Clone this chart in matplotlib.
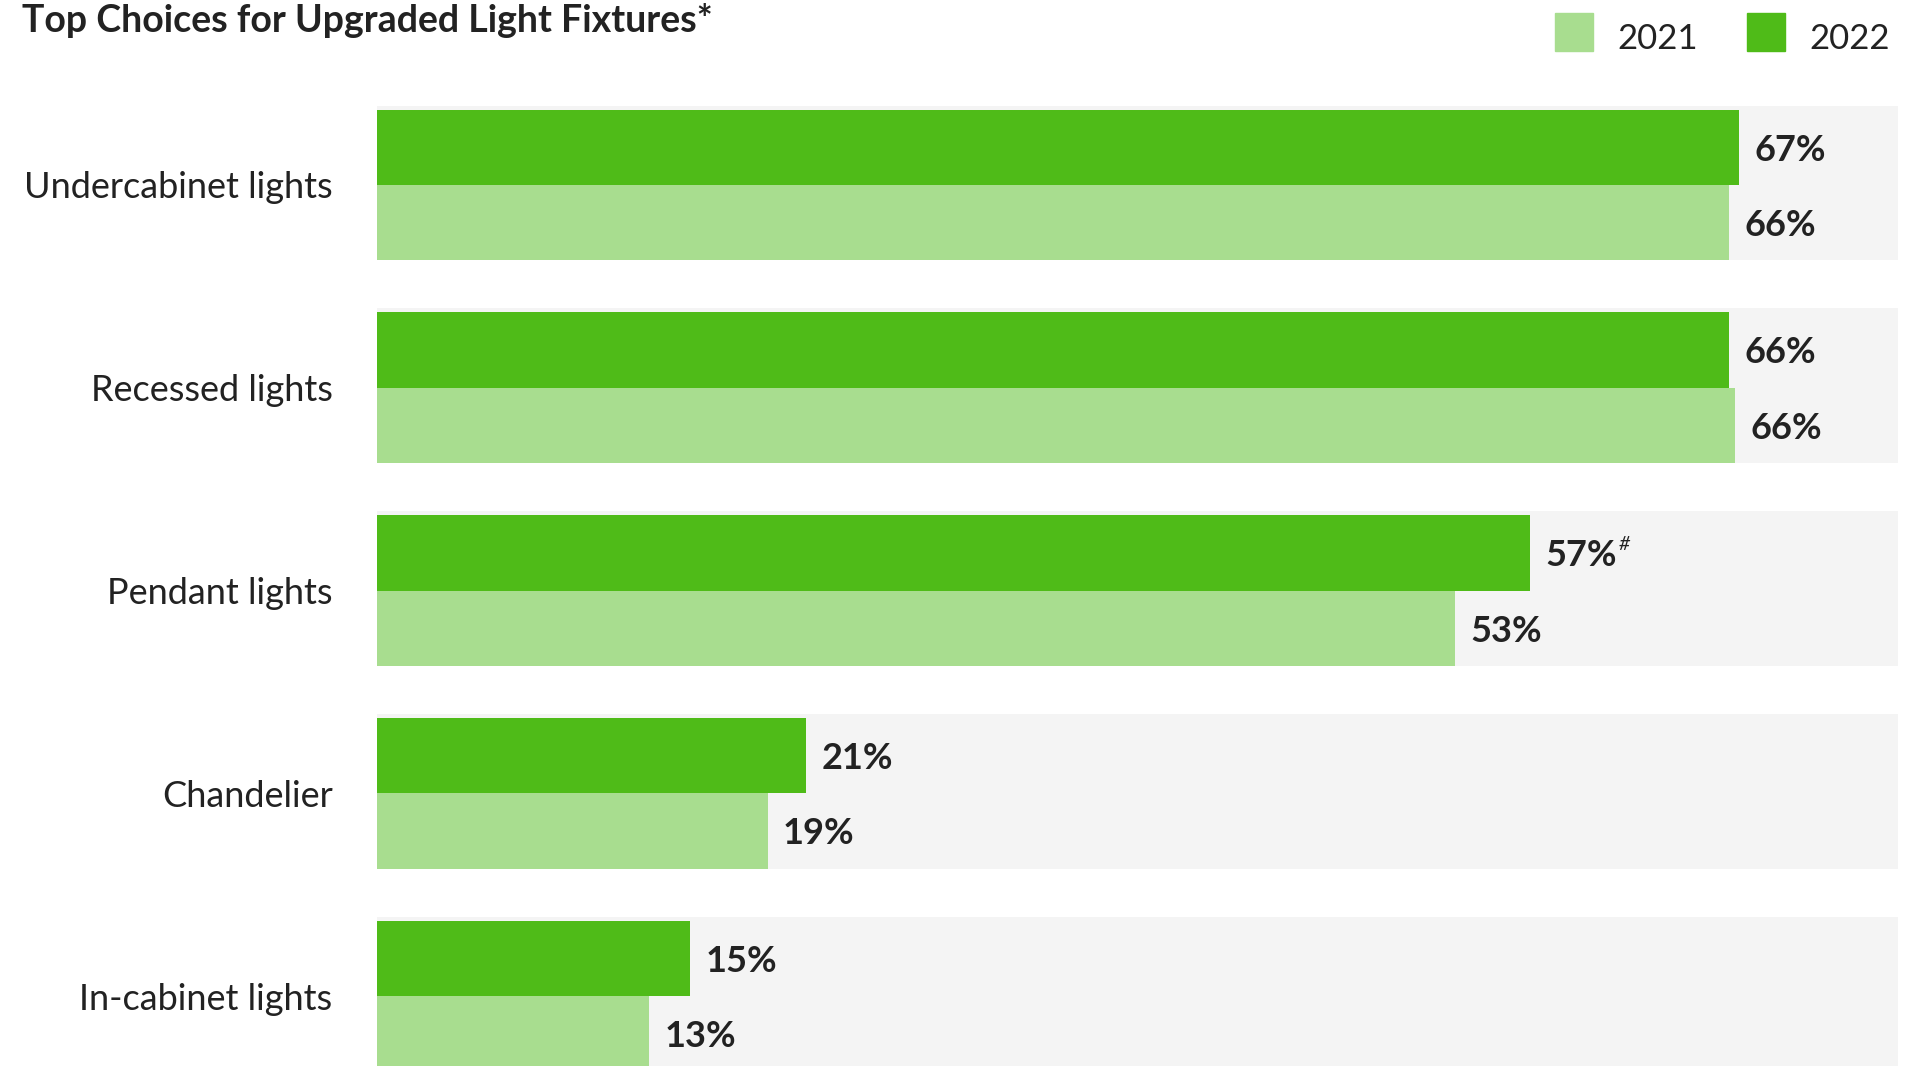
import matplotlib
matplotlib.use("Agg")
import matplotlib.pyplot as plt
from matplotlib.patches import Rectangle

categories = ["Undercabinet lights", "Recessed lights", "Pendant lights", "Chandelier", "In-cabinet lights"]
series = ["2021", "2022"]
values_2021 = [66.1, 66.4, 52.7, 19.1, 13.3]
values_2022 = [66.6, 66.1, 56.4, 21.0, 15.3]
labels_2021 = ["66%", "66%", "53%", "19%", "13%"]
labels_2022 = ["67%", "66%", "57%", "21%", "15%"]
notes_2022 = ["", "", "#", "", ""]
title = "Top Choices for Upgraded Light Fixtures*"

C2021 = "#a8dd8f"
C2022 = "#4fbb18"
GREY = "#f4f4f4"
TXT = "#222222"

plt.rcParams['font.family'] = ['Lato', 'DejaVu Sans']

W, H = 1927, 1066
fig = plt.figure(figsize=(W / 100, H / 100), dpi=100)

left_px, right_px = 377, 1898
px_per_unit = 20.45
group_px = 202.8
first_center_px = 185

ax = fig.add_axes([left_px / W, 0, (right_px - left_px) / W, 1])
xmax = (right_px - left_px) / px_per_unit
ax.set_xlim(0, xmax)
ax.set_ylim((H - first_center_px) / group_px, -first_center_px / group_px)

pos = list(range(len(categories)))
bh = 0.372

# grey panels behind each pair of bars
ax.barh([p - 0.01 for p in pos], [xmax] * len(pos), height=2 * bh + 0.02,
        left=0, color=GREY, zorder=0, align='center')
ax.barh([p - bh / 2 for p in pos], values_2022, height=bh, color=C2022, zorder=2)
ax.barh([p + bh / 2 for p in pos], values_2021, height=bh, color=C2021, zorder=2)

for p, v, lab, note in zip(pos, values_2022, labels_2022, notes_2022):
    t = ax.annotate(lab, xy=(v, p - bh / 2), xytext=(11, -2), textcoords='offset points',
                    va='center', ha='left', fontsize=26, fontweight='bold', color=TXT)
    if note:
        ax.annotate(note, xy=(1, 1), xycoords=t, xytext=(1, 2), textcoords='offset points',
                    va='top', ha='left', fontsize=14, style='italic', color=TXT)
for p, v, lab in zip(pos, values_2021, labels_2021):
    ax.annotate(lab, xy=(v, p + bh / 2), xytext=(11, -2), textcoords='offset points',
                va='center', ha='left', fontsize=26, fontweight='bold', color=TXT)

ax.set_yticks(pos, categories)
ax.tick_params(axis='y', length=0, pad=32, labelsize=26, labelcolor=TXT)
ax.set_xticks([])
for s in ax.spines.values():
    s.set_visible(False)
ax.patch.set_alpha(0)

fig.text(22 / W, 1 - 20 / H, title, fontsize=27, fontweight='bold', color=TXT,
         ha='left', va='center')

# legend
leg_sq = [(1555, C2021), (1747, C2022)]
for (x0, col), name in zip(leg_sq, series):
    fig.patches.append(Rectangle((x0 / W, 1 - 51 / H), 38 / W, 38 / H,
                                 transform=fig.transFigure, color=col))
    fig.text((x0 + 62) / W, 1 - 39 / H, name, fontsize=25, color=TXT,
             ha='left', va='center')

fig.savefig("out.png", dpi=100)
